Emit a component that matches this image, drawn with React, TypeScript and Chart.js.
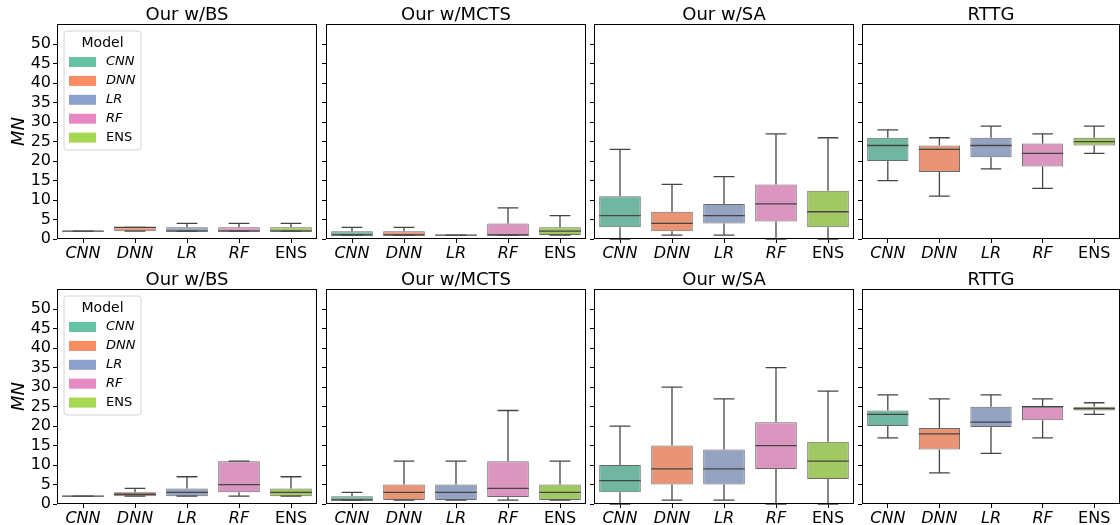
import React, { useEffect, useRef } from 'react';
import { Chart, registerables } from 'chart.js';

Chart.register(...registerables);
Chart.defaults.font.family = "'DejaVu Sans', sans-serif";

const categories = ['CNN', 'DNN', 'LR', 'RF', 'ENS'];
const italicCategory = [true, true, true, true, false];
const panelTitles = ['Our w/BS', 'Our w/MCTS', 'Our w/SA', 'RTTG'];
const yTickValues = [0, 5, 10, 15, 20, 25, 30, 35, 40, 45, 50];
const yMin = 0;
const yMax = 55.2;
const yLabel = 'MN';
const legendTitle = 'Model';

// [lower whisker, Q1, median, Q3, upper whisker] for each category
const topBS = [[2, 2, 2, 2, 2], [2, 2, 3, 3, 3], [2, 2, 2, 3, 4], [2, 2, 2, 3, 4], [2, 2, 2, 3, 4]];
const topMCTS = [[1, 1, 1, 2, 3], [1, 1, 1, 2, 3], [1, 1, 1, 1, 1], [1, 1, 1, 4, 8], [1, 1, 2, 3, 6]];
const topSA = [[0, 3, 6, 11, 23], [1, 2, 4, 7, 14], [1, 4, 6, 9, 16], [0, 4.5, 9, 14, 27], [0, 3, 7, 12.4, 26]];
const topRTTG = [[15, 20, 24, 26, 28], [11, 17.2, 23, 24, 26], [18, 21, 24, 26, 29], [13, 18.6, 22, 24.5, 27], [22, 24, 25, 26, 29]];

const botBS = [[2, 2, 2, 2, 2], [2, 2, 2.5, 3, 4], [2, 2, 3, 4, 7], [2, 3, 5, 11, 11], [2, 2, 3, 4, 7]];
const botMCTS = [[1, 1, 1, 2, 3], [1, 1, 3, 5, 11], [1, 1, 3, 5, 11], [1, 1.8, 4, 11, 24], [1, 1, 3, 5, 11]];
const botSA = [[0, 3, 6, 10, 20], [1, 5, 9, 15, 30], [1, 5, 9, 14, 27], [0, 9, 15, 21, 35], [0, 6.4, 11, 16, 29]];
const botRTTG = [[17, 20, 23, 24, 28], [8, 14, 18, 19.5, 27], [13, 19.8, 21, 25, 28], [17, 21.5, 25, 25, 27], [23, 24, 24.5, 25, 26]];

const panelStats = [
  [topBS, topMCTS, topSA, topRTTG],
  [botBS, botMCTS, botSA, botRTTG],
];

const boxColors = ['#71b6a1', '#e99575', '#95a3c3', '#db96c0', '#a2c864'];
const legendColors = ['#66c2a5', '#fc8d62', '#8da0cb', '#e78ac3', '#a6d854'];
const LINE = '#454545';

// layout (pixels)
const PANEL_LEFT = [57, 326, 594, 862];
const PANEL_RIGHT = [317, 586, 854, 1120];
const ROW_TOP = [24, 289];
const ROW_BOTTOM = [239, 504];
const CANVAS_TOP = [0, 262];
const CANVAS_BOTTOM = [262, 525];

function makeDecorPlugin(row: number, col: number, stats: number[][]) {
  return {
    id: 'decor' + row + col,
    afterDatasetsDraw(chart: any) {
      const { ctx, scales } = chart;
      const x = scales.x;
      const y = scales.y;
      const meta = chart.getDatasetMeta(0);
      ctx.save();
      ctx.strokeStyle = LINE;
      ctx.lineWidth = 1.3;
      stats.forEach((s, i) => {
        const el = meta.data[i];
        const w = el ? el.getProps(['width'], true).width : 40;
        const cx = x.getPixelForValue(i);
        const [lo, q1, med, q3, hi] = s;
        const yLo = y.getPixelForValue(lo);
        const yQ1 = y.getPixelForValue(q1);
        const yMed = y.getPixelForValue(med);
        const yQ3 = y.getPixelForValue(q3);
        const yHi = y.getPixelForValue(hi);
        ctx.beginPath();
        ctx.moveTo(cx, yQ3);
        ctx.lineTo(cx, yHi);
        ctx.moveTo(cx - w / 4, yHi);
        ctx.lineTo(cx + w / 4, yHi);
        ctx.moveTo(cx, yQ1);
        ctx.lineTo(cx, yLo);
        ctx.moveTo(cx - w / 4, yLo);
        ctx.lineTo(cx + w / 4, yLo);
        ctx.stroke();
        ctx.beginPath();
        ctx.moveTo(cx - w / 2, yMed);
        ctx.lineTo(cx + w / 2, yMed);
        ctx.stroke();
      });
      ctx.restore();
    },
    afterDraw(chart: any) {
      const { ctx, chartArea } = chart;
      const { left, right, top, bottom } = chartArea;
      ctx.save();
      // frame
      ctx.strokeStyle = '#000';
      ctx.lineWidth = 1;
      ctx.strokeRect(left + 0.5, top + 0.5, right - left - 1, bottom - top - 1);
      // title
      ctx.fillStyle = '#000';
      ctx.font = "18px 'DejaVu Sans'";
      ctx.textAlign = 'center';
      ctx.textBaseline = 'alphabetic';
      ctx.fillText(panelTitles[col], (left + right) / 2, top - 4);
      // legend
      if (col === 0) {
        const lx = left + 7;
        const ly = top + 7;
        const lw = 77;
        const lh = 119;
        ctx.beginPath();
        const r = 3;
        ctx.moveTo(lx + r, ly);
        ctx.lineTo(lx + lw - r, ly);
        ctx.quadraticCurveTo(lx + lw, ly, lx + lw, ly + r);
        ctx.lineTo(lx + lw, ly + lh - r);
        ctx.quadraticCurveTo(lx + lw, ly + lh, lx + lw - r, ly + lh);
        ctx.lineTo(lx + r, ly + lh);
        ctx.quadraticCurveTo(lx, ly + lh, lx, ly + lh - r);
        ctx.lineTo(lx, ly + r);
        ctx.quadraticCurveTo(lx, ly, lx + r, ly);
        ctx.closePath();
        ctx.fillStyle = 'rgba(255,255,255,0.8)';
        ctx.fill();
        ctx.strokeStyle = '#d4d4d4';
        ctx.lineWidth = 1;
        ctx.stroke();
        ctx.fillStyle = '#000';
        ctx.font = "14px 'DejaVu Sans'";
        ctx.textAlign = 'center';
        ctx.textBaseline = 'middle';
        ctx.fillText(legendTitle, lx + lw / 2, ly + 12);
        categories.forEach((c, i) => {
          const cy = ly + 31 + i * 18.9;
          ctx.fillStyle = legendColors[i];
          ctx.fillRect(lx + 5, cy - 5, 27, 10);
          ctx.fillStyle = '#000';
          ctx.font = (italicCategory[i] ? 'italic ' : '') + "13px 'DejaVu Sans'";
          ctx.textAlign = 'left';
          ctx.fillText(c, lx + 42, cy);
        });
      }
      ctx.restore();
    },
  };
}

function Panel({ row, col }: { row: number; col: number }) {
  const ref = useRef<HTMLCanvasElement>(null);
  const cl = col === 0 ? 0 : PANEL_LEFT[col] - 8;
  const cr = PANEL_RIGHT[col] + 1;
  const ct = CANVAS_TOP[row];
  const cb = CANVAS_BOTTOM[row];
  const w = cr - cl;
  const h = cb - ct;

  useEffect(() => {
    const stats = panelStats[row][col];
    const chart = new Chart(ref.current as HTMLCanvasElement, {
      type: 'bar',
      data: {
        labels: categories,
        datasets: [
          {
            data: stats.map((s) => [s[1], s[3]]),
            backgroundColor: boxColors,
            borderColor: 'rgba(69,69,69,0.8)',
            borderWidth: 1,
            borderSkipped: false,
            barPercentage: 0.8,
            categoryPercentage: 1.0,
          } as any,
        ],
      },
      options: {
        responsive: false,
        maintainAspectRatio: false,
        animation: false,
        devicePixelRatio: 1,
        layout: { padding: { top: ROW_TOP[row] - ct, right: 1, left: 0, bottom: 0 } },
        plugins: {
          legend: { display: false },
          title: { display: false },
          tooltip: { enabled: false },
        },
        scales: {
          x: {
            type: 'category',
            offset: true,
            grid: { display: true, drawOnChartArea: false, drawTicks: true, tickLength: 4, color: '#000', offset: false },
            border: { display: false },
            ticks: {
              color: '#000',
              padding: 1,
              maxRotation: 0,
              autoSkip: false,
              font: (ctx: any) => ({
                size: 16,
                family: "'DejaVu Sans'",
                style: italicCategory[ctx.index] ? 'italic' : 'normal',
              }),
            },
            afterFit: (scale: any) => {
              scale.height = cb - ROW_BOTTOM[row];
            },
          },
          y: {
            type: 'linear',
            min: yMin,
            max: yMax,
            grid: { display: true, drawOnChartArea: false, drawTicks: true, tickLength: 4, color: '#000' },
            border: { display: false },
            ticks: {
              display: col === 0,
              autoSkip: false,
              color: '#000',
              padding: 2,
              font: { size: 16, family: "'DejaVu Sans'" },
            },
            afterBuildTicks: (scale: any) => {
              scale.ticks = yTickValues.map((v) => ({ value: v }));
            },
            title: {
              display: col === 0,
              text: yLabel,
              color: '#000',
              font: { size: 18, style: 'italic', family: "'DejaVu Sans'" },
              padding: { top: 9, bottom: 0 },
            },
            afterFit: (scale: any) => {
              scale.width = PANEL_LEFT[col] - cl;
            },
          },
        },
      } as any,
      plugins: [makeDecorPlugin(row, col, stats)],
    });
    return () => chart.destroy();
  }, [row, col]);

  return (
    <canvas
      ref={ref}
      width={w}
      height={h}
      style={{ position: 'absolute', left: cl, top: ct, width: w, height: h }}
    />
  );
}

export default function App() {
  const panels = [];
  for (let r = 0; r < 2; r++) {
    for (let c = 0; c < 4; c++) {
      panels.push(<Panel key={r + '-' + c} row={r} col={c} />);
    }
  }
  return (
    <div style={{ position: 'fixed', left: 0, top: 0, width: 1120, height: 525, background: '#fff', overflow: 'hidden' }}>
      {panels}
    </div>
  );
}
